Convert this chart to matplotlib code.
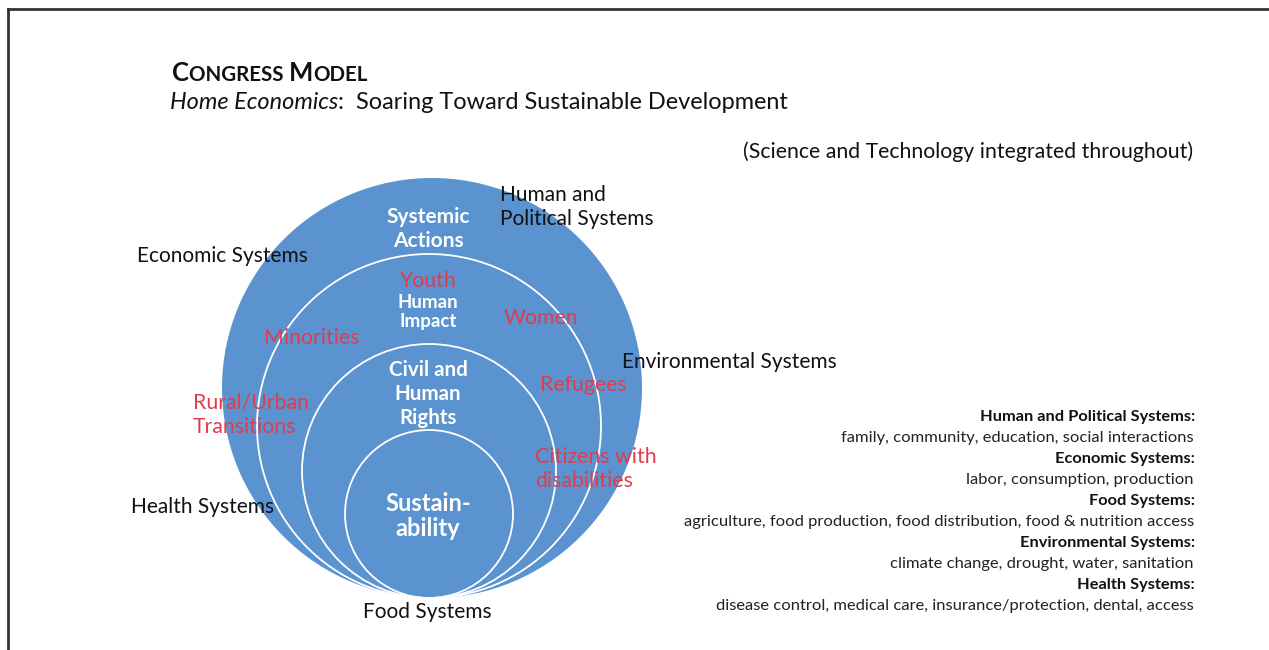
import matplotlib.pyplot as plt
from matplotlib.patches import Circle

plt.rcParams['font.family'] = ['Lato', 'DejaVu Sans']

# textos do modelo
titulo = [('C', 18.5), ('ONGRESS ', 14.8), ('M', 18.5), ('ODEL', 14.8)]
subtitulo_it = 'Home Economics'
subtitulo = ':  Soaring Toward Sustainable Development'
nota = '(Science and Technology integrated throughout)'

sistemas = ['Human and\nPolitical Systems', 'Economic Systems',
            'Environmental Systems', 'Health Systems', 'Food Systems']
aneis = ['Systemic\nActions', 'Human\nImpact', 'Civil and\nHuman\nRights',
         'Sustain-\nability']
grupos = ['Youth', 'Minorities', 'Women', 'Refugees',
          'Rural/Urban\nTransitions', 'Citizens with\ndisabilities']

legenda_titulos = ['Human and Political Systems:', 'Economic Systems:',
                   'Food Systems:', 'Environmental Systems:', 'Health Systems:']
legenda_itens = ['family, community, education, social interactions',
                 'labor, consumption, production',
                 'agriculture, food production, food distribution, food & nutrition access',
                 'climate change, drought, water, sanitation',
                 'disease control, medical care, insurance/protection, dental, access']

azul = '#5b93d0'
vermelho = '#e03c4a'
preto = '#111111'
W, H = 1269, 650

fig = plt.figure(figsize=(W/100, H/100), dpi=100)
ax = fig.add_axes([0, 0, 1, 1])
ax.set_xlim(0, W)
ax.set_ylim(H, 0)
ax.set_aspect('equal')
ax.axis('off')

# moldura
ax.plot([8, W], [9, 9], color='#333333', lw=2)
ax.plot([8, 8], [9, H], color='#333333', lw=2)

# circulos tangentes na base
base = 598
ax.add_patch(Circle((432, base - 210), 210, facecolor=azul, edgecolor='none'))
for r in [172, 127, 84]:
    ax.add_patch(Circle((429, base - r), r, facecolor='none',
                        edgecolor='white', lw=1.3))

# titulo em versalete
ant = ax.text(172, 81, titulo[0][0], fontsize=titulo[0][1], fontweight='bold',
              color=preto)
for txt, fs in titulo[1:]:
    ant = ax.annotate(txt, xy=(1, 0), xycoords=ant, fontsize=fs,
                      fontweight='bold', color=preto, va='bottom', ha='left')

t = ax.text(170, 109, subtitulo_it, fontsize=16.9, style='italic', color=preto)
ax.annotate(subtitulo, xy=(1, 0), xycoords=t, fontsize=16.9, color=preto,
            va='bottom', ha='left')

ax.text(1193, 152, nota, fontsize=15.3, ha='right', va='center', color=preto)

# sistemas ao redor
fs_sis = 15
ax.text(500, 207, sistemas[0], fontsize=fs_sis, ha='left', va='center',
        linespacing=1.3, color=preto)
ax.text(137, 256, sistemas[1], fontsize=fs_sis, ha='left', va='center', color=preto)
ax.text(622, 362, sistemas[2], fontsize=fs_sis, ha='left', va='center', color=preto)
ax.text(131, 507, sistemas[3], fontsize=fs_sis, ha='left', va='center', color=preto)
ax.text(427, 612, sistemas[4], fontsize=fs_sis, ha='center', va='center', color=preto)

# aneis
ax.text(428, 229, aneis[0], fontsize=15, fontweight='bold', color='white',
        ha='center', va='center', linespacing=1.2)
ax.text(428, 312, aneis[1], fontsize=13.5, fontweight='bold', color='white',
        ha='center', va='center', linespacing=1.2)
ax.text(428, 394, aneis[2], fontsize=14.8, fontweight='bold', color='white',
        ha='center', va='center', linespacing=1.22)
ax.text(428, 516, aneis[3], fontsize=17, fontweight='bold', color='white',
        ha='center', va='center', linespacing=1.15)

# grupos
fs_gr = 15.3
ax.text(428, 281, grupos[0], fontsize=fs_gr, color=vermelho, ha='center', va='center')
ax.text(312, 338, grupos[1], fontsize=fs_gr, color=vermelho, ha='center', va='center')
ax.text(541, 318, grupos[2], fontsize=fs_gr, color=vermelho, ha='center', va='center')
ax.text(583, 385, grupos[3], fontsize=fs_gr, color=vermelho, ha='center', va='center')
ax.text(193, 415, grupos[4], fontsize=fs_gr, color=vermelho, ha='left', va='center',
        linespacing=1.3)
ax.text(535, 469, grupos[5], fontsize=fs_gr, color=vermelho, ha='left', va='center',
        linespacing=1.3)

# legenda a direita
y = 417
for tit, item in zip(legenda_titulos, legenda_itens):
    ax.text(1195, y, tit, fontsize=11.8, fontweight='bold', ha='right',
            va='center', color=preto)
    ax.text(1194, y + 21, item, fontsize=11.85, ha='right', va='center',
            color='#222222')
    y += 42

plt.savefig('out.png', dpi=100)
